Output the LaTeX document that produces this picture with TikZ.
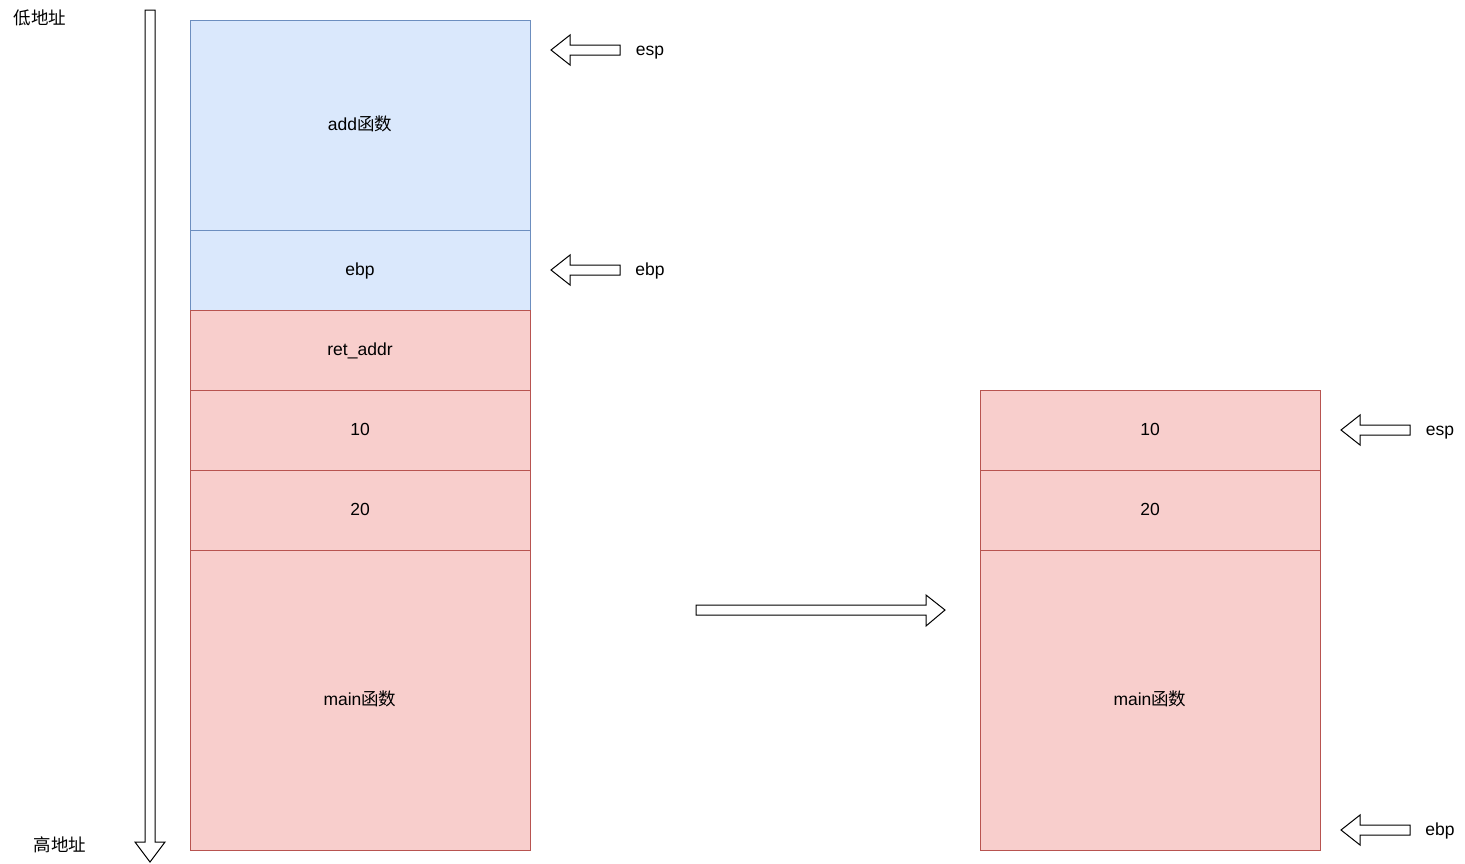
\documentclass[tikz,border=0pt]{standalone}
\usepackage{fontspec}
\setmainfont{Liberation Sans}
\newfontfamily\cjk{Noto Sans CJK SC}
\definecolor{bluefill}{HTML}{DAE8FC}
\definecolor{bluestroke}{HTML}{6C8EBF}
\definecolor{redfill}{HTML}{F8CECC}
\definecolor{redstroke}{HTML}{B85450}
\begin{document}
\begin{tikzpicture}[x=1pt,y=-1pt,
  txt/.style={font=\fontsize{17.5}{21}\selectfont, text height=1em, text depth=0em},
  cell/.style={txt, draw, line width=1pt, inner sep=0pt, outer sep=0pt, minimum width=340pt},
  bluecell/.style={cell, fill=bluefill, draw=bluestroke},
  redcell/.style={cell, fill=redfill, draw=redstroke},
  fat/.style={draw=black, fill=white, line width=1pt, line join=miter},
  lbl/.style={txt, inner sep=0pt}
]
\useasboundingbox (0,0) rectangle (1465,863);
% vertical address arrow
\draw[fat] (145,10) -- (155,10) -- (155,842) -- (165,842) -- (150,862) -- (135,842) -- (145,842) -- cycle;
\node[lbl] (low) at (40,19) {\cjk 低地址};
\node[lbl] (high) at (60,846) {\cjk 高地址};
% left stack
\node[bluecell, minimum height=210pt] (add) at (360,125) {add{\cjk 函数}};
\node[bluecell, minimum height=80pt] (ebpL) at (360,270) {ebp};
\node[redcell, minimum height=80pt] (ret) at (360,350) {ret\_addr};
\node[redcell, minimum height=80pt] (tenL) at (360,430) {10};
\node[redcell, minimum height=80pt] (twentyL) at (360,510) {20};
\node[redcell, minimum height=300pt] (mainL) at (360,700) {main{\cjk 函数}};
% right stack
\node[redcell, minimum height=80pt] (tenR) at (1150,430) {10};
\node[redcell, minimum height=80pt] (twentyR) at (1150,510) {20};
\node[redcell, minimum height=300pt] (mainR) at (1150,700) {main{\cjk 函数}};
% pointer arrows
\foreach \x/\y/\t/\n in {551/50/esp/espL, 551/270/ebp/ebpLp, 1341/430/esp/espR, 1341/830/ebp/ebpR}{
  \draw[fat] (\x,\y) -- ++(19,-15) -- ++(0,10) -- ++(50,0) -- ++(0,10) -- ++(-50,0) -- ++(0,10) -- cycle;
  \node[lbl] (\n) at (\x+99,\y) {\t};
}
% transition arrow
\draw[fat] (696,605) -- (926,605) -- (926,595) -- (945,610) -- (926,626) -- (926,615) -- (696,615) -- cycle;
\end{tikzpicture}
\end{document}
